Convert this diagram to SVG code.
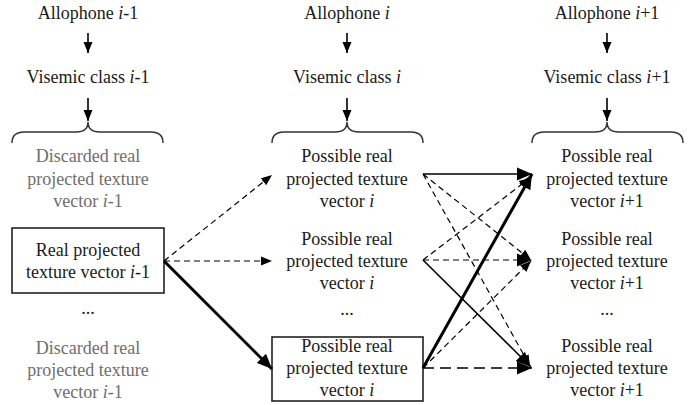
<svg xmlns="http://www.w3.org/2000/svg" width="695" height="405" viewBox="0 0 695 405">
<defs>
<style>
text{font-family:'Liberation Serif','DejaVu Serif',serif;font-size:18px;fill:#1a1a1a;text-anchor:middle}
.g{fill:#6e6e6e}
.i{font-style:italic}
.brace{fill:none;stroke:#333;stroke-width:1.5}
.box{fill:#fff;stroke:#222;stroke-width:1.6}
.c{fill:none;stroke:#000}
.thin{stroke-width:1.2}
.sol{stroke-width:1.6}
.thick{stroke-width:3}
.d{stroke-dasharray:6,4}
.dl{stroke-dasharray:11,6}
</style>
<marker id="ah" markerUnits="userSpaceOnUse" markerWidth="12" markerHeight="10" refX="11" refY="5" orient="auto"><path d="M0,0.5 L11,5 L0,9.5 Z" fill="#000"/></marker>
<marker id="ahb" markerUnits="userSpaceOnUse" markerWidth="16" markerHeight="14" refX="15" refY="7" orient="auto"><path d="M0,0.5 L15,7 L0,13.5 Z" fill="#000"/></marker>
</defs>

<g id="col1-head">
<text x="88" y="19">Allophone <tspan class="i">i</tspan>-1</text>
<text x="88" y="83">Visemic class <tspan class="i">i</tspan>-1</text>
</g>
<g id="col2-head">
<text x="347" y="19">Allophone <tspan class="i">i</tspan></text>
<text x="347" y="83">Visemic class <tspan class="i">i</tspan></text>
</g>
<g id="col3-head">
<text x="607" y="19">Allophone <tspan class="i">i</tspan>+1</text>
<text x="607" y="83">Visemic class <tspan class="i">i</tspan>+1</text>
</g>

<g id="braces">
<path class="brace" d="M12,143 Q12,132 24,132 L76,132 Q88,132 88,122 Q88,132 100,132 L151,132 Q163,132 163,143"/>
<path class="brace" d="M272,143 Q272,132 284,132 L335,132 Q347,132 347,122 Q347,132 359,132 L411,132 Q423,132 423,143"/>
<path class="brace" d="M532,143 Q532,132 544,132 L595,132 Q607,132 607,122 Q607,132 619,132 L671,132 Q683,132 683,143"/>
</g>

<g id="n1a">
<text class="g" x="88" y="162">Discarded real</text>
<text class="g" x="88" y="185">projected texture</text>
<text class="g" x="88" y="207">vector <tspan class="i">i</tspan>-1</text>
</g>
<g id="n1b">
<rect class="box" x="12" y="228" width="152" height="65"/>
<text x="88" y="256">Real projected</text>
<text x="88" y="278">texture vector <tspan class="i">i</tspan>-1</text>
</g>
<g id="n1dots"><text x="88" y="314">...</text></g>
<g id="n1c">
<text class="g" x="88" y="354">Discarded real</text>
<text class="g" x="88" y="376">projected texture</text>
<text class="g" x="88" y="398">vector <tspan class="i">i</tspan>-1</text>
</g>

<g id="n2a">
<text x="347" y="162">Possible real</text>
<text x="347" y="185">projected texture</text>
<text x="347" y="207">vector <tspan class="i">i</tspan></text>
</g>
<g id="n2b">
<text x="347" y="245">Possible real</text>
<text x="347" y="267">projected texture</text>
<text x="347" y="289">vector <tspan class="i">i</tspan></text>
</g>
<g id="n2dots"><text x="347" y="315">...</text></g>
<g id="n2c">
<rect class="box" x="272" y="337" width="151" height="64"/>
<text x="347" y="352">Possible real</text>
<text x="347" y="374">projected texture</text>
<text x="347" y="396">vector <tspan class="i">i</tspan></text>
</g>

<g id="n3a">
<text x="607" y="162">Possible real</text>
<text x="607" y="185">projected texture</text>
<text x="607" y="207">vector <tspan class="i">i</tspan>+1</text>
</g>
<g id="n3b">
<text x="607" y="245">Possible real</text>
<text x="607" y="267">projected texture</text>
<text x="607" y="289">vector <tspan class="i">i</tspan>+1</text>
</g>
<g id="n3dots"><text x="607" y="315">...</text></g>
<g id="n3c">
<text x="607" y="352">Possible real</text>
<text x="607" y="374">projected texture</text>
<text x="607" y="396">vector <tspan class="i">i</tspan>+1</text>
</g>

<g id="connectors">
<line class="c sol" x1="88" y1="33" x2="88" y2="53" marker-end="url(#ah)"/>
<line class="c sol" x1="88" y1="98" x2="88" y2="121" marker-end="url(#ah)"/>
<line class="c sol" x1="347" y1="33" x2="347" y2="53" marker-end="url(#ah)"/>
<line class="c sol" x1="347" y1="98" x2="347" y2="121" marker-end="url(#ah)"/>
<line class="c sol" x1="607" y1="33" x2="607" y2="53" marker-end="url(#ah)"/>
<line class="c sol" x1="607" y1="98" x2="607" y2="121" marker-end="url(#ah)"/>

<line class="c thin d" x1="164" y1="261" x2="272" y2="175" marker-end="url(#ah)"/>
<line class="c thin d" x1="164" y1="261" x2="272" y2="261" marker-end="url(#ah)"/>
<line class="c thick" x1="164" y1="261" x2="272" y2="369" marker-end="url(#ahb)"/>

<line class="c sol" x1="423" y1="174" x2="532" y2="174" marker-end="url(#ahb)"/>
<line class="c thin d" x1="423" y1="174" x2="531" y2="260" marker-end="url(#ah)"/>
<line class="c thin d" x1="423" y1="174" x2="530" y2="366" marker-end="url(#ah)"/>

<line class="c thin d" x1="423" y1="260" x2="530" y2="178" marker-end="url(#ah)"/>
<line class="c thin d" x1="423" y1="260" x2="532" y2="260" marker-end="url(#ahb)"/>
<line class="c sol" x1="423" y1="260" x2="531" y2="367" marker-end="url(#ahb)"/>

<line class="c thick" x1="423" y1="368" x2="532" y2="174" marker-end="url(#ahb)"/>
<line class="c thin d" x1="423" y1="368" x2="531" y2="261" marker-end="url(#ah)"/>
<line class="c sol dl" x1="423" y1="368" x2="532" y2="368" marker-end="url(#ahb)"/>
</g>
</svg>
